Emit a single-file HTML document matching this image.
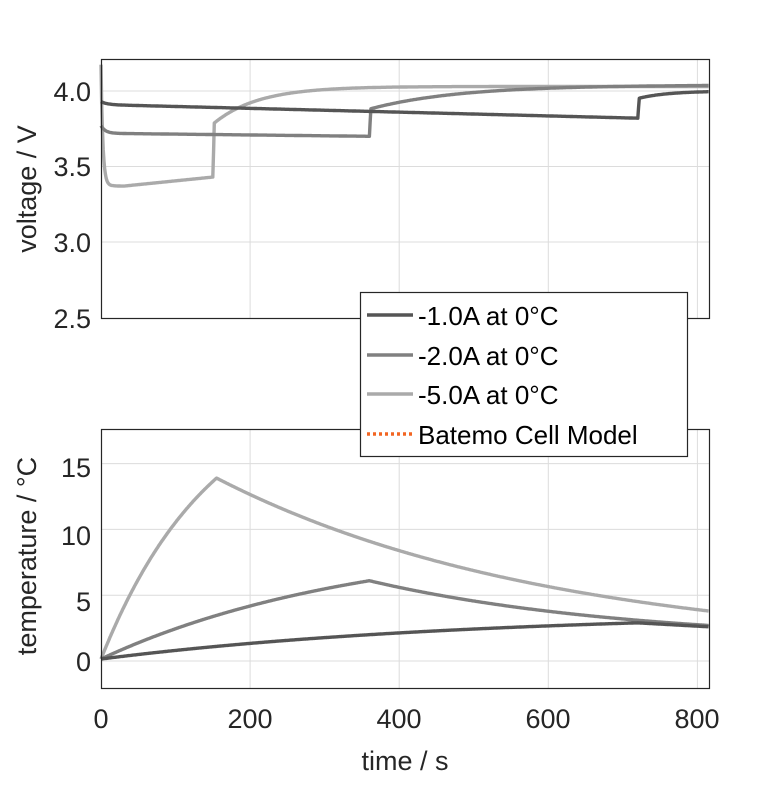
<!DOCTYPE html>
<html><head><meta charset="utf-8"><style>
body{margin:0;background:#fff}
text{font-family:"Liberation Sans",Arial,sans-serif;fill:#262626}
</style></head><body>
<svg id="s" width="781" height="781" xmlns="http://www.w3.org/2000/svg">
<rect width="781" height="781" fill="#fff"/>
<g id="grid" stroke="#dcdcdc" stroke-width="1"></g>
<g id="curves" fill="none" stroke-width="3.4" stroke-linejoin="round"></g>
<g stroke="#262626" fill="none" stroke-width="1.2">
<rect x="101.5" y="59.5" width="608" height="259"/>
<rect x="101.5" y="429.5" width="608" height="259"/>
</g>
<g font-size="27" text-anchor="end">
<text x="91" y="101">4.0</text><text x="91" y="176">3.5</text><text x="91" y="252">3.0</text><text x="91" y="328">2.5</text>
<text x="91" y="477">15</text><text x="91" y="545">10</text><text x="91" y="611">5</text><text x="91" y="671">0</text>
</g>
<g font-size="27" text-anchor="middle">
<text x="101" y="728">0</text><text x="250" y="728">200</text><text x="399" y="728">400</text><text x="548" y="728">600</text><text x="697" y="728">800</text>
<text x="405" y="770">time / s</text>
<text transform="translate(36,189) rotate(-90)">voltage / V</text>
<text transform="translate(36,556) rotate(-90)">temperature / °C</text>
</g>
<g>
<rect x="360.5" y="292.5" width="327" height="164" fill="#fff" stroke="#262626" stroke-width="1.2"/>
<line x1="367" y1="315" x2="413" y2="315" stroke="#555" stroke-width="3.4"/>
<line x1="367" y1="355" x2="413" y2="355" stroke="#808080" stroke-width="3.4"/>
<line x1="367" y1="394" x2="413" y2="394" stroke="#aaa" stroke-width="3.4"/>
<line x1="367" y1="434" x2="413" y2="434" stroke="#f26522" stroke-width="3.4" stroke-dasharray="3,3"/>
<g font-size="26"><text x="418" y="325" style="fill:#000">-1.0A at 0°C</text><text x="418" y="365" style="fill:#000">-2.0A at 0°C</text><text x="418" y="404" style="fill:#000">-5.0A at 0°C</text><text x="418" y="444" style="fill:#000">Batemo Cell Model</text></g>
</g>
</svg>
<script>
var X=t=>101+t*0.7455, V=v=>91+(4-v)*151, T=c=>661-c*13.16;
var g=document.getElementById('grid'),h='';
[200,400,600,800].forEach(t=>{h+=`<line x1="${X(t)}" y1="60" x2="${X(t)}" y2="318"/><line x1="${X(t)}" y1="430" x2="${X(t)}" y2="688"/>`;});
[4,3.5,3].forEach(v=>h+=`<line x1="101" y1="${V(v)}" x2="709" y2="${V(v)}"/>`);
[15,10,5,0].forEach(c=>h+=`<line x1="101" y1="${T(c)}" x2="709" y2="${T(c)}"/>`);
g.innerHTML=h;
function path(f,fy,col){var d='';for(var t=0;t<=815;t+=1){d+=(t?'L':'M')+X(t).toFixed(1)+','+fy(f(t)).toFixed(1);}return `<path d="${d}" stroke="${col}"/>`;}
function volt(tc,vs,ve,vj,vend,k,drop0){return t=>{if(t<=tc){var a=vs-(vs-ve)*t/tc;if(drop0)a=drop0(t,a);return a;}var u=t-tc;return t<tc+2?ve+(vj-ve)*u/2:vj+(vend-vj)*(1-Math.exp(-(u)/k));};}
var v1=volt(720,3.91,3.82,3.95,4.0,40,(t,a)=>a+0.02*Math.exp(-t/8));
var v2=volt(360,3.72,3.70,3.88,4.04,120,(t,a)=>a+0.05*Math.exp(-t/6));
var v5=t=>{if(t<=150){var b=3.37+0.06*Math.max(0,t-30)/120;if(t<30)b=3.37+0.004*(30-t)/30;return b+0.8*Math.exp(-t/2.5);}var u=t-150;if(u<2)return 3.43+0.35*u/2;return 3.78+(4.03-3.78)*(1-Math.exp(-u/60));};
var T1=t=>t<=720?0.15+2.75*(1-Math.exp(-t/500))/(1-Math.exp(-720/500)):2.9-0.3*(t-720)/95;
var T2=t=>t<=360?0.15+5.95*(1-Math.exp(-t/350))/(1-Math.exp(-360/350)):2.7+3.4*(Math.exp(-(t-360)/350)-Math.exp(-455/350))/(1-Math.exp(-455/350));
var T5=t=>t<=155?0.15+13.75*(1-Math.exp(-t/150))/(1-Math.exp(-155/150)):13.9-10.1*(1-Math.exp(-(t-155)/450))/(1-Math.exp(-660/450));
document.getElementById('curves').innerHTML=path(v5,V,'#aaa')+path(v2,V,'#808080')+path(v1,V,'#555')+path(T5,T,'#aaa')+path(T2,T,'#808080')+path(T1,T,'#555');
</script>
</body></html>
